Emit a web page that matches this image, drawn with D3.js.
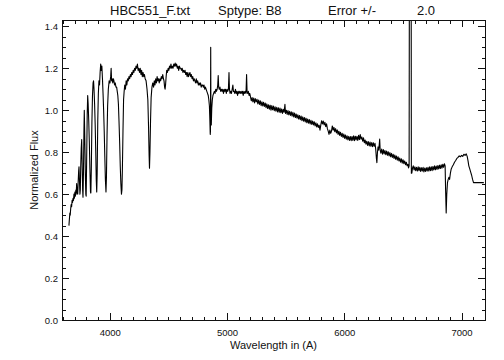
<!DOCTYPE html>
<html>
<head>
<meta charset="utf-8">
<script src="https://cdn.jsdelivr.net/npm/d3@7"></script>
<style>
body { margin: 0; background: #fff; }
svg text { font-family: "Liberation Sans", Arial, sans-serif; fill: #111; }
.axis line { stroke: #111; shape-rendering: crispEdges; }
</style>
</head>
<body>
<svg id="chart" width="504" height="360"></svg>
<script>
// wavelength (A), normalized flux
var spectrum = [
  [3652,0.45],[3656,0.48],[3660,0.51],[3663,0.50],[3667,0.53],[3671,0.55],[3675,0.54],[3679,0.57],
  [3683,0.56],[3687,0.58],[3691,0.57],[3695,0.60],[3699,0.58],[3703,0.61],[3707,0.59],[3711,0.62],
  [3714,0.60],[3718,0.65],[3722,0.61],[3727,0.60],[3731,0.66],[3735,0.71],[3738,0.73],[3742,0.66],
  [3746,0.60],[3749,0.62],[3753,0.74],[3757,0.82],[3761,0.86],[3765,0.74],[3769,0.62],[3772,0.585],
  [3776,0.70],[3780,0.90],[3783,1.00],[3787,0.88],[3792,0.70],[3796,0.60],[3799,0.59],[3803,0.75],
  [3808,0.98],[3812,1.07],[3816,1.03],[3821,0.95],[3826,0.85],[3831,0.72],[3836,0.61],[3839,0.605],
  [3843,0.72],[3848,0.94],[3853,1.07],[3858,1.13],[3862,1.14],[3866,1.10],[3871,1.03],[3876,0.93],
  [3881,0.80],[3885,0.67],[3889,0.61],[3893,0.70],[3898,0.95],[3903,1.08],[3908,1.14],[3913,1.12],
  [3918,1.18],[3923,1.22],[3928,1.19],[3933,1.21],[3938,1.15],[3943,1.08],[3948,1.00],[3953,0.90],
  [3958,0.78],[3963,0.67],[3968,0.61],[3972,0.68],[3977,0.88],[3982,1.02],[3988,1.10],[3995,1.14],
  [4002,1.13],[4008,1.16],[4012,1.20],[4016,1.14],[4021,1.15],[4026,1.13],[4031,1.15],[4036,1.14],
  [4041,1.12],[4047,1.13],[4053,1.11],[4059,1.11],[4064,1.09],[4069,1.07],[4074,1.03],[4079,0.95],
  [4085,0.84],[4090,0.73],[4095,0.65],[4100,0.60],[4104,0.62],[4108,0.72],[4113,0.90],[4118,1.05],
  [4123,1.09],[4128,1.12],[4134,1.10],[4140,1.14],[4146,1.12],[4152,1.15],[4158,1.14],[4164,1.16],
  [4170,1.15],[4176,1.17],[4182,1.16],[4188,1.18],[4194,1.17],[4200,1.19],[4206,1.18],[4212,1.20],
  [4218,1.19],[4224,1.21],[4230,1.20],[4236,1.22],[4242,1.19],[4248,1.20],[4254,1.18],[4260,1.20],
  [4266,1.17],[4272,1.19],[4278,1.16],[4284,1.18],[4290,1.16],[4296,1.17],[4302,1.15],[4310,1.14],
  [4318,1.10],[4325,1.05],[4331,0.92],[4336,0.78],[4339,0.724],[4343,0.80],[4348,0.95],[4353,1.06],
  [4360,1.11],[4367,1.13],[4374,1.11],[4380,1.14],[4386,1.12],[4392,1.15],[4398,1.13],[4404,1.16],
  [4410,1.14],[4416,1.15],[4422,1.13],[4428,1.15],[4434,1.14],[4440,1.16],[4446,1.15],[4452,1.17],
  [4458,1.15],[4463,1.14],[4468,1.11],[4472,1.10],[4476,1.12],[4481,1.16],[4486,1.19],[4492,1.18],
  [4498,1.20],[4504,1.19],[4510,1.21],[4516,1.20],[4522,1.22],[4528,1.20],[4534,1.21],[4540,1.20],
  [4546,1.22],[4552,1.21],[4558,1.225],[4564,1.21],[4570,1.22],[4576,1.20],[4582,1.21],[4588,1.19],
  [4594,1.21],[4600,1.20],[4606,1.20],[4612,1.19],[4618,1.20],[4624,1.18],[4630,1.19],[4636,1.18],
  [4642,1.19],[4648,1.17],[4654,1.18],[4660,1.16],[4666,1.18],[4672,1.16],[4678,1.17],[4684,1.18],
  [4690,1.16],[4696,1.17],[4702,1.15],[4708,1.16],[4714,1.14],[4720,1.15],[4726,1.14],[4732,1.13],
  [4738,1.15],[4744,1.13],[4750,1.14],[4756,1.12],[4762,1.13],[4768,1.12],[4774,1.13],[4780,1.11],
  [4786,1.12],[4792,1.12],[4798,1.11],[4804,1.12],[4810,1.10],[4816,1.11],[4822,1.10],[4828,1.09],
  [4834,1.08],[4840,1.07],[4845,1.05],[4850,1.02],[4854,0.95],[4857,0.885],[4859,0.90],[4861,1.30],
  [4863,0.95],[4866,0.93],[4870,1.01],[4875,1.05],[4880,1.07],[4886,1.08],[4892,1.09],[4898,1.08],
  [4904,1.10],[4910,1.09],[4916,1.10],[4921,1.12],[4925,1.165],[4929,1.11],[4934,1.10],[4940,1.11],
  [4946,1.09],[4952,1.10],[4958,1.09],[4964,1.10],[4970,1.08],[4976,1.10],[4982,1.09],[4988,1.10],
  [4994,1.08],[5000,1.10],[5006,1.09],[5012,1.10],[5017,1.18],[5021,1.10],[5026,1.08],[5032,1.09],
  [5038,1.08],[5044,1.10],[5050,1.12],[5055,1.09],[5060,1.09],[5066,1.08],[5072,1.10],[5078,1.08],
  [5084,1.09],[5090,1.07],[5096,1.09],[5102,1.08],[5108,1.09],[5114,1.08],[5120,1.09],[5126,1.08],
  [5132,1.09],[5138,1.07],[5144,1.09],[5150,1.08],[5156,1.09],[5162,1.08],[5167,1.17],[5171,1.09],
  [5176,1.08],[5182,1.09],[5188,1.07],[5194,1.08],
  [5200,1.065],[5207,1.045],[5214,1.06],[5221,1.04],[5228,1.058],[5235,1.035],[5242,1.055],[5249,1.04],
  [5256,1.052],[5263,1.03],[5270,1.048],[5277,1.028],[5284,1.045],[5291,1.022],[5298,1.04],[5305,1.02],
  [5312,1.038],[5319,1.018],[5326,1.034],[5333,1.012],[5340,1.03],[5347,1.008],[5354,1.026],[5361,1.005],
  [5368,1.024],[5375,1.00],[5382,1.022],[5389,1.002],[5396,1.02],[5403,0.998],[5410,1.016],[5417,0.995],
  [5424,1.014],[5431,0.992],[5438,1.012],[5445,0.99],[5452,1.01],[5459,0.988],[5466,1.006],[5473,0.985],
  [5480,1.004],[5487,0.99],[5494,1.028],[5499,0.985],[5506,1.00],[5513,0.98],[5520,0.998],[5527,0.978],
  [5534,0.995],[5541,0.975],[5548,0.992],[5555,0.972],[5562,0.99],[5569,0.968],[5576,0.986],[5583,0.965],
  [5590,0.982],[5597,0.962],[5604,0.978],[5611,0.958],[5618,0.975],[5625,0.955],[5632,0.972],[5639,0.95],
  [5646,0.968],[5653,0.948],[5660,0.965],[5667,0.944],[5674,0.962],[5681,0.94],[5688,0.958],[5695,0.938],
  [5702,0.955],[5709,0.935],[5716,0.952],[5723,0.932],[5730,0.948],[5737,0.93],[5744,0.945],[5751,0.925],
  [5758,0.94],[5765,0.92],[5772,0.935],[5779,0.918],[5786,0.928],[5793,0.905],[5800,0.93],[5807,0.95],
  [5814,0.935],[5821,0.948],[5828,0.93],[5835,0.942],[5842,0.922],[5849,0.935],[5856,0.912],[5863,0.90],
  [5870,0.885],[5877,0.905],[5884,0.89],[5891,0.90],[5898,0.925],[5905,0.905],[5912,0.918],[5919,0.898],
  [5926,0.912],[5933,0.892],[5940,0.906],[5947,0.885],[5954,0.90],[5961,0.88],[5968,0.895],[5975,0.875],
  [5982,0.89],[5989,0.87],[5996,0.886],[6003,0.866],[6010,0.882],[6017,0.862],[6024,0.878],[6031,0.858],
  [6038,0.875],[6045,0.856],[6052,0.874],[6059,0.855],[6066,0.875],[6073,0.856],[6080,0.878],[6087,0.855],
  [6094,0.876],[6101,0.858],[6108,0.875],[6115,0.856],[6122,0.88],[6129,0.86],[6136,0.884],[6143,0.862],
  [6150,0.872],[6157,0.852],[6164,0.868],[6171,0.845],[6178,0.858],[6185,0.838],[6192,0.852],[6199,0.832],
  [6206,0.85],[6213,0.83],[6220,0.848],[6227,0.828],[6234,0.846],[6241,0.826],[6248,0.845],[6255,0.828],
  [6262,0.842],[6268,0.815],[6274,0.77],[6278,0.75],[6283,0.80],[6288,0.825],[6293,0.81],[6298,0.835],
  [6302,0.862],[6306,0.81],[6312,0.795],[6319,0.815],[6326,0.79],[6333,0.812],[6340,0.792],[6347,0.808],
  [6354,0.788],[6361,0.805],[6368,0.785],[6375,0.802],[6382,0.782],[6389,0.798],[6396,0.778],[6403,0.794],
  [6410,0.775],[6417,0.79],[6424,0.77],[6431,0.786],[6438,0.766],[6445,0.782],[6452,0.762],[6459,0.778],
  [6466,0.758],[6473,0.772],[6480,0.752],[6487,0.768],[6494,0.748],[6501,0.764],[6508,0.745],[6515,0.758],
  [6522,0.74],[6529,0.752],[6536,0.735],[6543,0.742],[6548,0.725],[6553,0.735],[6557,2.50],[6569,2.50],
  [6572,0.70],[6576,0.70],[6582,0.725],[6588,0.735],[6595,0.715],[6602,0.73],[6609,0.712],[6616,0.728],
  [6623,0.71],[6630,0.73],[6637,0.712],[6644,0.728],[6651,0.708],[6658,0.726],[6665,0.71],[6672,0.728],
  [6679,0.706],[6686,0.724],[6693,0.708],[6700,0.726],[6707,0.71],[6714,0.728],[6721,0.71],[6728,0.73],
  [6735,0.712],[6742,0.73],[6749,0.712],[6756,0.732],[6763,0.715],[6770,0.735],[6777,0.716],[6784,0.734],
  [6791,0.718],[6798,0.736],[6805,0.72],[6812,0.738],[6819,0.722],[6826,0.74],[6833,0.724],[6840,0.742],
  [6847,0.728],[6854,0.745],[6860,0.735],[6864,0.62],[6869,0.51],[6874,0.60],[6880,0.655],[6886,0.67],
  [6892,0.68],[6898,0.67],[6905,0.70],[6912,0.72],[6920,0.73],[6930,0.74],[6940,0.752],[6950,0.76],
  [6960,0.77],[6970,0.775],[6980,0.782],[6990,0.778],[7000,0.785],[7010,0.78],[7020,0.79],[7030,0.785],
  [7040,0.792],[7048,0.78],[7055,0.76],[7062,0.735],[7070,0.72],[7078,0.705],[7086,0.69],[7094,0.67],
  [7102,0.655],[7190,0.655]
];

var xMajor = [4000, 5000, 6000, 7000];
var yMajor = [0, 0.2, 0.4, 0.6, 0.8, 1.0, 1.2, 1.4];
var titleParts = ["HBC551_F.txt", "Sptype: B8", "Error +/-", "2.0"];
var xTitle = "Wavelength in (A)";
var yTitle = "Normalized Flux";

var margin = {top: 20, right: 19, bottom: 40, left: 62},
    W = 504 - margin.left - margin.right,
    H = 360 - margin.top - margin.bottom;

var x = d3.scaleLinear().domain([3593, 7200]).range([0, W]);
var y = d3.scaleLinear().domain([0, 1.43]).range([H, 0]);

var svg = d3.select("#chart");
var g = svg.append("g").attr("transform", "translate(" + margin.left + "," + margin.top + ")");

g.append("clipPath").attr("id", "plotclip")
  .append("rect").attr("width", W).attr("height", H);

var xMinor = d3.range(3600, 7201, 100).filter(function(d) { return d % 1000 !== 0; });
var yMinor = d3.range(0, 1.43, 0.05).filter(function(d) { return Math.abs(d * 5 - Math.round(d * 5)) > 1e-6; });

function addAxis(axis, tf, labels) {
  var a = g.append("g").attr("class", "axis").attr("transform", tf).call(axis);
  a.select(".domain").remove();
  a.selectAll("text").style("font-size", "9.5px").attr("fill", "#111");
  if (!labels) a.selectAll("text").remove();
  return a;
}

// major + minor ticks on all four sides, pointing inward
addAxis(d3.axisBottom(x).tickValues(xMajor).tickSize(-7).tickPadding(9).tickFormat(d3.format("d")), "translate(0," + H + ")", true);
addAxis(d3.axisBottom(x).tickValues(xMinor).tickSize(-3.5), "translate(0," + H + ")", false);
addAxis(d3.axisTop(x).tickValues(xMajor).tickSize(-7), "translate(0,0)", false);
addAxis(d3.axisTop(x).tickValues(xMinor).tickSize(-3.5), "translate(0,0)", false);
addAxis(d3.axisLeft(y).tickValues(yMajor).tickSize(-7).tickPadding(4).tickFormat(d3.format(".1f")), "translate(0,0)", true);
addAxis(d3.axisLeft(y).tickValues(yMinor).tickSize(-3.5), "translate(0,0)", false);
addAxis(d3.axisRight(y).tickValues(yMajor).tickSize(-7), "translate(" + W + ",0)", false);
addAxis(d3.axisRight(y).tickValues(yMinor).tickSize(-3.5), "translate(" + W + ",0)", false);

var line = d3.line()
  .x(function(d) { return x(d[0]); })
  .y(function(d) { return y(d[1]); });

g.append("path")
  .datum(spectrum)
  .attr("clip-path", "url(#plotclip)")
  .attr("fill", "none")
  .attr("stroke", "#000")
  .attr("stroke-width", 1.1)
  .attr("stroke-linejoin", "round")
  .attr("d", line);

g.append("rect")
  .attr("x", 0.5).attr("y", 0.5)
  .attr("width", W).attr("height", H)
  .attr("fill", "none").attr("stroke", "#111")
  .attr("shape-rendering", "crispEdges");

// title pieces, spaced like the original
var titleX = [110, 218, 328, 417];
svg.append("text")
  .attr("y", 15)
  .style("font-size", "13px")
  .selectAll("tspan").data(titleParts).enter().append("tspan")
  .attr("x", function(d, i) { return titleX[i]; })
  .text(function(d) { return d; });

svg.append("text")
  .attr("x", margin.left + W / 2).attr("y", 349)
  .attr("text-anchor", "middle")
  .style("font-size", "11px")
  .text(xTitle);

svg.append("text")
  .attr("transform", "translate(37.5," + (margin.top + H / 2) + ") rotate(-90)")
  .attr("text-anchor", "middle")
  .style("font-size", "11px")
  .text(yTitle);
</script>
</body>
</html>
